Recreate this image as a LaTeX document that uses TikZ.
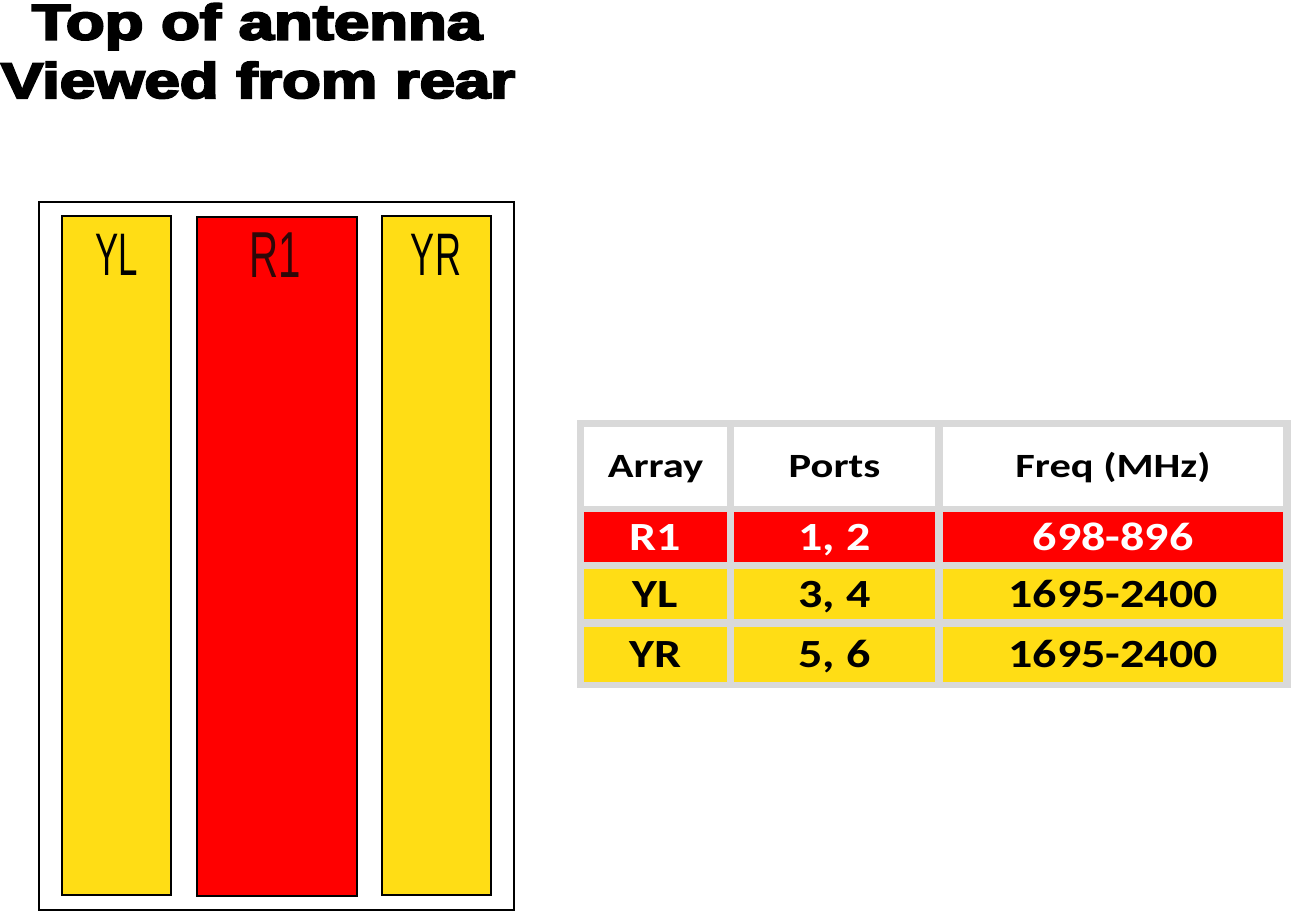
\documentclass[tikz,border=0pt]{standalone}
\usepackage{fontspec}
\usepackage{graphicx}
\setmainfont{Liberation Sans}
\newfontfamily\titlefont[FakeBold=4]{Liberation Sans Bold}
\newfontfamily\labfont{Liberation Sans}
\newfontfamily\tabfont{Carlito}
\definecolor{yel}{HTML}{FFDD15}
\definecolor{redc}{HTML}{FF0000}
\definecolor{grayc}{HTML}{D9D9D9}
\definecolor{lblred}{HTML}{2E0808}
\tikzset{
  bar/.style={draw=black, line width=2pt, inner sep=0pt, minimum width=109pt, minimum height=679pt},
  barlabel/.style={anchor=base, inner sep=0pt},
  cell/.style={inner sep=0pt, text height=22pt, text depth=0pt, anchor=center, font=\tabfont\bfseries\fontsize{34}{40}\selectfont},
  dcell/.style={cell, text height=26pt, font=\tabfont\bfseries\fontsize{40}{44}\selectfont},
  title/.style={anchor=base, inner sep=0pt, font=\titlefont\fontsize{50}{60}\selectfont}
}
\begin{document}
\begin{tikzpicture}[x=1pt,y=-1pt]
\useasboundingbox (0,0) rectangle (1291,911);
% title
\node[title] (t1) at (257,39.5) {\scalebox{1.27}[1]{Top of antenna}};
\node[title] (t2) at (258,98) {\scalebox{1.27}[1]{Viewed from rear}};
% antenna outline
\node[draw=black, line width=1.5pt, inner sep=0pt, minimum width=475pt, minimum height=708pt] (box) at (276.5,556) {};
\node[bar, fill=yel] (yl) at (116.5,555.5) {};
\node[bar, fill=redc, minimum width=160pt] (r1) at (277,556.5) {};
\node[bar, fill=yel] (yr) at (436.5,555.5) {};
\node[barlabel, font=\labfont\fontsize{60}{60}\selectfont] (ylt) at (117,275) {\scalebox{0.58}[1]{YL}};
\node[barlabel, font=\labfont\fontsize{65}{65}\selectfont, text=lblred] (r1t) at (275,277) {\scalebox{0.62}[1]{R1}};
\node[barlabel, font=\labfont\fontsize{60}{60}\selectfont] (yrt) at (436,275) {\scalebox{0.6}[1]{YR}};
% table
\fill[grayc] (577,420) rectangle (1291,688);
% header
\node[cell, fill=white, minimum width=143pt, minimum height=79pt] (h1) at (655.5,466.5) {\scalebox{1.25}[1]{Array}};
\node[cell, fill=white, minimum width=201pt, minimum height=79pt] (h2) at (834.5,466.5) {\scalebox{1.25}[1]{Ports}};
\node[cell, fill=white, minimum width=340pt, minimum height=79pt] (h3) at (1113,466.5) {\scalebox{1.25}[1]{Freq (MHz)}};
% R1 row
\node[dcell, fill=redc, text=white, minimum width=143pt, minimum height=50pt] (a1) at (655.5,537) {\scalebox{1.2}[1]{R1}};
\node[dcell, fill=redc, text=white, minimum width=201pt, minimum height=50pt] (p1) at (834.5,537) {\scalebox{1.2}[1]{1, 2}};
\node[dcell, fill=redc, text=white, minimum width=340pt, minimum height=50pt] (f1) at (1113,537) {\scalebox{1.2}[1]{698-896}};
% YL row
\node[dcell, fill=yel, minimum width=143pt, minimum height=50pt] (a2) at (655.5,594) {\scalebox{1.2}[1]{YL}};
\node[dcell, fill=yel, minimum width=201pt, minimum height=50pt] (p2) at (834.5,594) {\scalebox{1.2}[1]{3, 4}};
\node[dcell, fill=yel, minimum width=340pt, minimum height=50pt] (f2) at (1113,594) {\scalebox{1.2}[1]{1695-2400}};
% YR row
\node[dcell, fill=yel, minimum width=143pt, minimum height=55pt] (a3) at (655.5,654.5) {\scalebox{1.2}[1]{YR}};
\node[dcell, fill=yel, minimum width=201pt, minimum height=55pt] (p3) at (834.5,654.5) {\scalebox{1.2}[1]{5, 6}};
\node[dcell, fill=yel, minimum width=340pt, minimum height=55pt] (f3) at (1113,654.5) {\scalebox{1.2}[1]{1695-2400}};
\end{tikzpicture}
\end{document}
